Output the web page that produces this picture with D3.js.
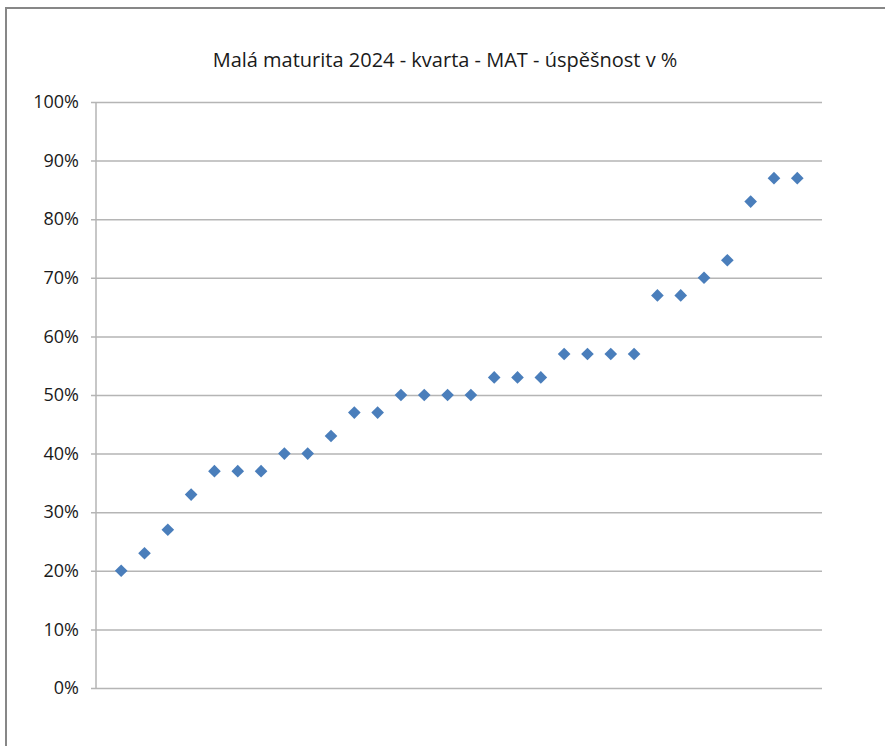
<!DOCTYPE html>
<html lang="cs">
<head>
<meta charset="UTF-8">
<title>Malá maturita 2024</title>
<script src="https://d3js.org/d3.v7.min.js"></script>
<style>
  body { margin: 0; background: #fff; }
  svg { display: block; font-family: "Open Sans", "Noto Sans", sans-serif; }
</style>
</head>
<body>
<svg id="chart"></svg>
<script>
const width = 885, height = 746;

// data (success rate in %, sorted)
const students = d3.range(1, 31);
const success = [20, 23, 27, 33, 37, 37, 37, 40, 40, 43, 47, 47, 50, 50, 50, 50,
                 53, 53, 53, 57, 57, 57, 57, 67, 67, 70, 73, 83, 87, 87];
const yTicks = [0, 10, 20, 30, 40, 50, 60, 70, 80, 90, 100];
const title = "Malá maturita 2024 - kvarta - MAT - úspěšnost v %";

const margin = { top: 102, right: 63, bottom: 58, left: 96 };

const svg = d3.select("#chart").attr("width", width).attr("height", height);

// frame of the chart object (only top and left edge visible)
svg.append("path")
  .attr("d", `M6,${height} L6,8 L${width},8`)
  .attr("fill", "none")
  .attr("stroke", "#878787")
  .attr("stroke-width", 2);

const x = d3.scaleLinear().domain([-0.08, 31.06]).range([margin.left, width - margin.right]);
const y = d3.scaleLinear().domain([0, 100]).range([height - margin.bottom, margin.top]);

// title
svg.append("text")
  .attr("x", 445)
  .attr("y", 67)
  .attr("text-anchor", "middle")
  .attr("font-size", 20)
  .attr("fill", "#1a1a1a")
  .text(title);

// gridlines + y axis
const yAxis = d3.axisLeft(y)
  .tickValues(yTicks)
  .tickSize(-(width - margin.left - margin.right))
  .tickPadding(17)
  .tickFormat(d => d + "%");

const gy = svg.append("g")
  .attr("transform", `translate(${margin.left},0)`)
  .call(yAxis);

gy.select(".domain").remove();
gy.selectAll(".tick line")
  .attr("x1", -5)
  .attr("stroke", "#b5b5b5")
  .attr("stroke-width", 1.5);
gy.selectAll(".tick text")
  .attr("font-size", 18)
  .attr("fill", "#1a1a1a")
  .attr("font-family", "'Open Sans', sans-serif");

// vertical axis line
svg.append("line")
  .attr("x1", margin.left).attr("x2", margin.left)
  .attr("y1", y(100)).attr("y2", y(0))
  .attr("stroke", "#b5b5b5")
  .attr("stroke-width", 1.5);

// markers
const diamond = d3.symbol().type(d3.symbolSquare).size(80);
svg.append("g")
  .selectAll("path")
  .data(students)
  .join("path")
  .attr("d", diamond)
  .attr("transform", (d, i) => `translate(${x(d)},${y(success[i])}) rotate(45)`)
  .attr("fill", "#4a7ebb");
</script>
</body>
</html>
